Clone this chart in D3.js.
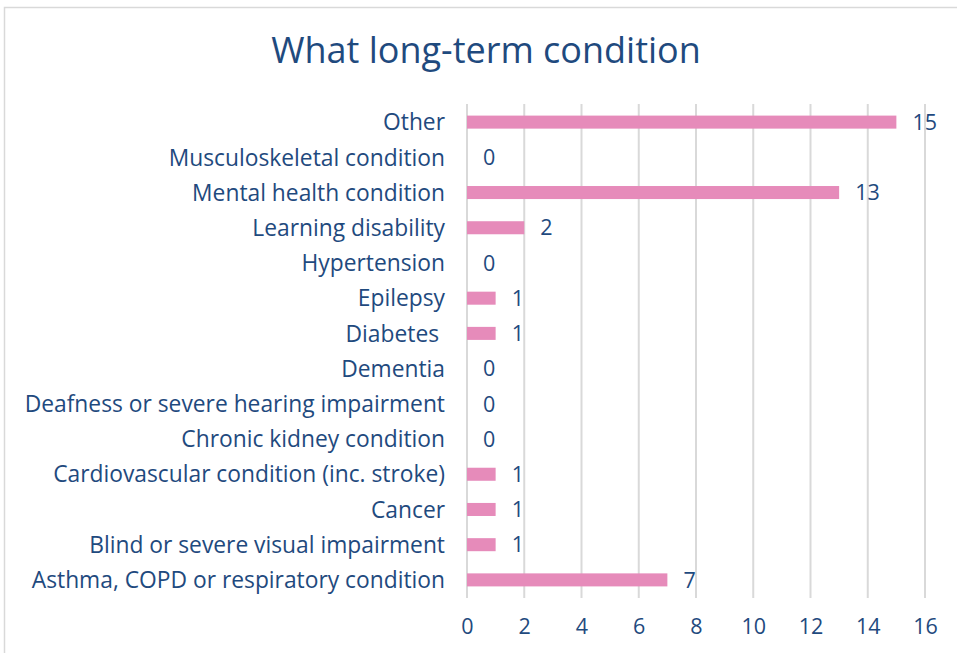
<!DOCTYPE html>
<html><head><meta charset="utf-8">
<script src="https://cdn.jsdelivr.net/npm/d3@7"></script>
<style>body{margin:0;background:#fff}svg{display:block}text{font-family:"Open Sans","DejaVu Sans",sans-serif}</style>
</head><body>
<svg id="c" width="957" height="653"></svg>
<script>
const categories = ["Other","Musculoskeletal condition","Mental health condition","Learning disability","Hypertension","Epilepsy","Diabetes ","Dementia","Deafness or severe hearing impairment","Chronic kidney condition","Cardiovascular condition (inc. stroke)","Cancer","Blind or severe visual impairment","Asthma, COPD or respiratory condition"];
const values = [15,0,13,2,0,1,1,0,0,0,1,1,1,7];
const xTicks = [0,2,4,6,8,10,12,14,16];
const title = "What long-term condition";

const svg = d3.select("#c");
const textColor = "#1f4a7e", barColor = "#e68bba", gridColor = "#d9d9d9";
svg.append("rect").attr("x",4.5).attr("y",7.5).attr("width",960).attr("height",660).attr("fill","#fff").attr("stroke",gridColor).attr("stroke-width",1.5);

const x = d3.scaleLinear().domain([0,16]).range([467,925]);
const y = d3.scaleBand().domain(categories).range([104.5,597.5]).paddingInner(0.63).paddingOuter(0.315);

const g = svg.append("g");
g.selectAll("line.grid").data(xTicks).join("line").attr("class","grid")
 .attr("x1",d=>x(d)).attr("x2",d=>x(d)).attr("y1",104).attr("y2",598)
 .attr("stroke",gridColor).attr("stroke-width",2);

g.selectAll("rect.bar").data(categories).join("rect").attr("class","bar")
 .attr("x",x(0)).attr("y",d=>y(d)).attr("height",y.bandwidth())
 .attr("width",(d,i)=>x(values[i])-x(0)).attr("fill",barColor);

g.selectAll("text.val").data(categories).join("text").attr("class","val")
 .attr("x",(d,i)=>x(values[i])+16).attr("y",d=>y(d)+y.bandwidth()/2)
 .attr("dy","0.36em").attr("font-size",21.5).attr("fill",textColor)
 .text((d,i)=>values[i]);

g.selectAll("text.cat").data(categories).join("text").attr("class","cat")
 .attr("x",445).attr("y",d=>y(d)+y.bandwidth()/2).attr("dy","0.36em")
 .attr("text-anchor","end").attr("font-size",22.8).attr("fill",textColor)
 .attr("xml:space","preserve").style("white-space","pre")
 .text(d=>d);

const axis = d3.axisBottom(x).tickValues(xTicks).tickSize(0).tickPadding(0);
const ax = svg.append("g").attr("transform","translate(0,619)").call(axis);
ax.select(".domain").remove();
ax.selectAll("text").attr("font-size",21.5).attr("fill",textColor).attr("dy","0.71em").attr("y",0)
  .style("font-family",'"Open Sans","DejaVu Sans",sans-serif');

svg.append("text").attr("x",486).attr("y",63).attr("text-anchor","middle")
 .attr("font-size",36).attr("fill",textColor).text(title);
</script>
</body></html>
